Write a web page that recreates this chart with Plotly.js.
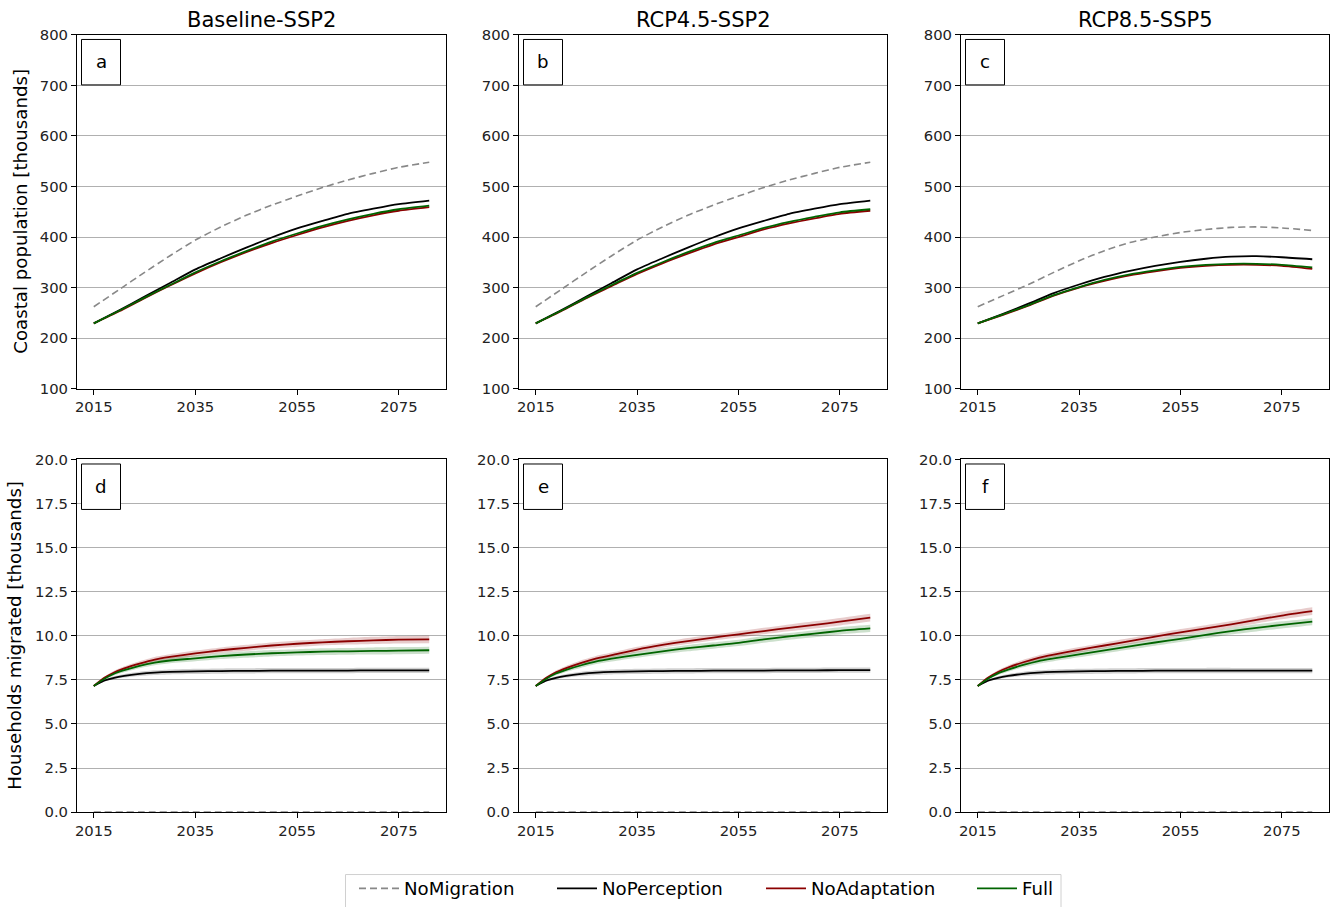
<!DOCTYPE html>
<html><head><meta charset="utf-8">
<script src="https://cdn.plot.ly/plotly-3.0.1.min.js"></script>
<style>body{margin:0;background:#fff}#chart{width:1334px;height:907px}</style>
</head><body><div id="chart"></div>
<script>
// ---------- data ----------
const scenarios = ['Baseline-SSP2', 'RCP4.5-SSP2', 'RCP8.5-SSP5'];
const panelLetters = ['a', 'b', 'c', 'd', 'e', 'f'];
const seriesNames = ['NoMigration', 'NoPerception', 'NoAdaptation', 'Full'];

// Coastal population [thousands]
const popYears = [2015, 2020, 2025, 2030, 2035, 2040, 2045, 2050, 2055, 2060, 2065, 2070, 2075, 2081];
const popNoMigration_a  = [262, 296, 330, 363, 394, 420, 443, 463, 481, 498, 513, 526, 538, 548];
const popNoPerception_a = [229, 255, 282, 309, 336, 358, 379, 399, 417, 432, 446, 456, 465, 472];
const popNoAdaptation_a = [229, 253, 279, 304, 328, 350, 370, 388, 404, 419, 432, 443, 452, 459];
const popFull_a         = [229, 254, 280, 305, 330, 352, 372, 391, 407, 422, 435, 446, 455, 462];

const popNoMigration_b  = [262, 296, 330, 363, 394, 420, 443, 463, 481, 498, 513, 526, 538, 548];
const popNoPerception_b = [229, 255, 282, 309, 336, 358, 379, 399, 417, 432, 446, 456, 465, 472];
const popNoAdaptation_b = [229, 253, 279, 303, 327, 348, 367, 385, 400, 415, 427, 437, 446, 452];
const popFull_b         = [229, 254, 280, 305, 329, 350, 370, 388, 403, 418, 430, 440, 449, 455];

const popNoMigration_c  = [262, 284, 306, 330, 353, 373, 389, 400, 409, 415, 419, 420, 418, 413];
const popNoPerception_c = [229, 248, 268, 289, 306, 321, 333, 343, 351, 357, 361, 362, 360, 356];
const popNoAdaptation_c = [229, 246, 264, 284, 300, 313, 324, 332, 339, 343, 345, 345, 343, 337];
const popFull_c         = [229, 247, 265, 285, 301, 315, 326, 334, 341, 345, 347, 347, 345, 340];

// Households migrated [thousands]
const migYears = [2015, 2017, 2019, 2021, 2024, 2027, 2030, 2035, 2040, 2045, 2050, 2055, 2060, 2065, 2070, 2075, 2081];
const migNoMigration = [0, 0, 0, 0, 0, 0, 0, 0, 0, 0, 0, 0, 0, 0, 0, 0, 0];

const migNoPerception_d = [7.15, 7.45, 7.62, 7.73, 7.84, 7.91, 7.95, 7.98, 8.00, 8.01, 8.02, 8.02, 8.03, 8.03, 8.04, 8.04, 8.04];
const migNoAdaptation_d = [7.15, 7.60, 7.92, 8.15, 8.42, 8.65, 8.80, 9.00, 9.18, 9.32, 9.45, 9.55, 9.63, 9.69, 9.74, 9.78, 9.80];
const migFull_d         = [7.15, 7.55, 7.85, 8.05, 8.30, 8.48, 8.60, 8.72, 8.85, 8.94, 9.01, 9.06, 9.10, 9.12, 9.14, 9.16, 9.18];

const migNoPerception_e = [7.15, 7.45, 7.62, 7.73, 7.84, 7.91, 7.95, 7.98, 8.00, 8.01, 8.02, 8.03, 8.03, 8.04, 8.04, 8.05, 8.05];
const migNoAdaptation_e = [7.15, 7.60, 7.93, 8.17, 8.47, 8.72, 8.90, 9.22, 9.48, 9.70, 9.90, 10.08, 10.27, 10.45, 10.62, 10.80, 11.03];
const migFull_e         = [7.15, 7.55, 7.86, 8.07, 8.33, 8.55, 8.70, 8.92, 9.12, 9.30, 9.45, 9.60, 9.80, 9.97, 10.12, 10.28, 10.42];

const migNoPerception_f = [7.15, 7.45, 7.62, 7.73, 7.84, 7.91, 7.95, 7.98, 8.00, 8.01, 8.02, 8.02, 8.03, 8.03, 8.03, 8.03, 8.03];
const migNoAdaptation_f = [7.15, 7.62, 7.95, 8.20, 8.50, 8.75, 8.93, 9.20, 9.45, 9.70, 9.95, 10.20, 10.42, 10.65, 10.90, 11.15, 11.40];
const migFull_f         = [7.15, 7.56, 7.87, 8.08, 8.35, 8.57, 8.72, 8.95, 9.17, 9.40, 9.62, 9.83, 10.05, 10.27, 10.45, 10.62, 10.80];

// half-width of the shaded spread around each migration line
const spreadNoPerception = [0, 0.05, 0.08, 0.10, 0.12, 0.13, 0.14, 0.15, 0.15, 0.15, 0.15, 0.15, 0.15, 0.15, 0.15, 0.15, 0.15];
const spreadNoAdaptation = [0, 0.06, 0.10, 0.12, 0.14, 0.15, 0.15, 0.16, 0.16, 0.17, 0.17, 0.18, 0.18, 0.19, 0.20, 0.21, 0.22];
const spreadFull         = [0, 0.06, 0.10, 0.12, 0.14, 0.15, 0.16, 0.17, 0.17, 0.18, 0.18, 0.18, 0.19, 0.19, 0.20, 0.20, 0.20];

const popTickVals = [100, 200, 300, 400, 500, 600, 700, 800];
const migTickVals = [0, 2.5, 5, 7.5, 10, 12.5, 15, 17.5, 20];
const yearTickVals = [2015, 2035, 2055, 2075];

// ---------- layout helpers ----------
const W = 1334, H = 907;
const colPx = [[77, 446], [519, 887], [961, 1329]];
const rowPx = [[35, 389], [460, 813]];
const px2x = p => p / W;
const px2y = p => 1 - p / H;

const colors = {
  NoMigration: '#888888',
  NoPerception: '#000000',
  NoAdaptation: '#8b0000',
  Full: '#006400'
};
const fills = {
  NoPerception: 'rgba(0,0,0,0.18)',
  NoAdaptation: 'rgba(139,0,0,0.20)',
  Full: 'rgba(0,100,0,0.20)'
};
const legendIds = { NoMigration: 'legend', NoPerception: 'legend2', NoAdaptation: 'legend3', Full: 'legend4' };
const legendTextStart = { legend: 405, legend2: 603, legend3: 812, legend4: 1023 };
const FONT = 'DejaVu Sans, sans-serif';

const popData = [
  [popNoMigration_a, popNoPerception_a, popNoAdaptation_a, popFull_a],
  [popNoMigration_b, popNoPerception_b, popNoAdaptation_b, popFull_b],
  [popNoMigration_c, popNoPerception_c, popNoAdaptation_c, popFull_c]
];
const migData = [
  [migNoMigration, migNoPerception_d, migNoAdaptation_d, migFull_d],
  [migNoMigration, migNoPerception_e, migNoAdaptation_e, migFull_e],
  [migNoMigration, migNoPerception_f, migNoAdaptation_f, migFull_f]
];
const spreads = { NoPerception: spreadNoPerception, NoAdaptation: spreadNoAdaptation, Full: spreadFull };

const traces = [];
function lineTrace(x, y, name, k, showLegend) {
  return {
    x: x, y: y, name: name, type: 'scatter', mode: 'lines',
    xaxis: 'x' + k, yaxis: 'y' + k,
    line: {
      color: colors[name], width: name === 'NoMigration' ? 1.6 : 1.8,
      dash: name === 'NoMigration' ? '7px,4px' : 'solid', shape: 'spline', smoothing: 0.6
    },
    showlegend: showLegend, legend: legendIds[name], legendgroup: name, hoverinfo: 'skip'
  };
}

for (let c = 0; c < 3; c++) {
  const kTop = c === 0 ? '' : String(c + 1);
  seriesNames.forEach((n, i) => {
    traces.push(lineTrace(popYears, popData[c][i], n, kTop, c === 0));
  });
  const kBot = String(c + 4);
  seriesNames.forEach((n, i) => {
    const vals = migData[c][i];
    if (n !== 'NoMigration') {
      const s = spreads[n];
      traces.push({
        x: migYears, y: vals.map((v, j) => v - s[j]), type: 'scatter', mode: 'lines',
        xaxis: 'x' + kBot, yaxis: 'y' + kBot, line: { width: 0, shape: 'spline', smoothing: 0.6 },
        showlegend: false, hoverinfo: 'skip'
      });
      traces.push({
        x: migYears, y: vals.map((v, j) => v + s[j]), type: 'scatter', mode: 'lines',
        xaxis: 'x' + kBot, yaxis: 'y' + kBot, line: { width: 0, shape: 'spline', smoothing: 0.6 },
        fill: 'tonexty', fillcolor: fills[n], showlegend: false, hoverinfo: 'skip'
      });
    }
  });
  seriesNames.forEach((n, i) => {
    traces.push(lineTrace(migYears, migData[c][i], n, kBot, false));
  });
}

const layout = {
  width: W, height: H,
  margin: { l: 0, r: 0, t: 0, b: 0 },
  paper_bgcolor: '#fff', plot_bgcolor: '#fff',
  font: { family: FONT, size: 14, color: '#000' },
  showlegend: true,
  annotations: [],
  shapes: []
};

Object.keys(legendTextStart).forEach(id => {
  layout[id] = {
    orientation: 'h', x: px2x(legendTextStart[id] - 51), xanchor: 'left',
    y: px2y(871), yanchor: 'top',
    font: { family: FONT, size: 18.2, color: '#000' },
    borderwidth: 0, bgcolor: 'rgba(0,0,0,0)', itemwidth: 40
  };
});

// legend frame
layout.shapes.push({
  type: 'rect', xref: 'paper', yref: 'paper',
  x0: px2x(345.5), x1: px2x(1061), y0: px2y(875.5), y1: px2y(920),
  line: { color: '#d0d0d0', width: 1 }, fillcolor: 'rgba(0,0,0,0)', layer: 'below'
});

for (let r = 0; r < 2; r++) {
  for (let c = 0; c < 3; c++) {
    const idx = r * 3 + c + 1;
    const key = idx === 1 ? '' : String(idx);
    layout['xaxis' + key] = {
      domain: [px2x(colPx[c][0]), px2x(colPx[c][1])],
      range: [2011.7, 2084.3], anchor: 'y' + key,
      tickmode: 'array', tickvals: yearTickVals, ticktext: yearTickVals.map(String),
      ticks: 'outside', ticklen: 5, tickwidth: 1, tickcolor: '#000',
      showline: true, linecolor: '#000', linewidth: 1, mirror: true,
      showgrid: false, zeroline: false,
      tickfont: { family: FONT, size: 14.8, color: '#222' }
    };
    layout['yaxis' + key] = {
      domain: [px2y(rowPx[r][1]), px2y(rowPx[r][0])],
      range: r === 0 ? [100, 800] : [0, 20], anchor: 'x' + key,
      tickmode: 'array',
      tickvals: r === 0 ? popTickVals : migTickVals,
      ticktext: r === 0 ? popTickVals.map(String) : migTickVals.map(v => v.toFixed(1)),
      ticks: 'outside', ticklen: 5, tickwidth: 1, tickcolor: '#000',
      showline: true, linecolor: '#000', linewidth: 1, mirror: true,
      showgrid: true, gridcolor: '#b0b0b0', gridwidth: 1, zeroline: false,
      tickfont: { family: FONT, size: 14.8, color: '#222' }
    };

    // panel letter box
    const left = colPx[c][0], top = rowPx[r][0];
    layout.shapes.push({
      type: 'rect', xref: 'paper', yref: 'paper',
      x0: px2x(left + 4.5), x1: px2x(left + 43.5),
      y0: px2y(top + 4.5), y1: px2y(top + 50),
      line: { color: '#000', width: 1 }, fillcolor: '#fff', layer: 'above'
    });
    layout.annotations.push({
      xref: 'paper', yref: 'paper', x: px2x(left + 24), y: px2y(top + 27),
      xanchor: 'center', yanchor: 'middle', showarrow: false,
      text: panelLetters[r * 3 + c], font: { family: FONT, size: 18.2, color: '#000' }
    });
  }
}

// column titles
scenarios.forEach((s, c) => {
  layout.annotations.push({
    xref: 'paper', yref: 'paper', x: px2x((colPx[c][0] + colPx[c][1]) / 2), y: px2y(20),
    xanchor: 'center', yanchor: 'middle', showarrow: false,
    text: s, font: { family: FONT, size: 21, color: '#000' }
  });
});

// y-axis titles
layout.annotations.push({
  xref: 'paper', yref: 'paper', x: px2x(21), y: px2y((rowPx[0][0] + rowPx[0][1]) / 2),
  xanchor: 'center', yanchor: 'middle', showarrow: false, textangle: -90,
  text: 'Coastal population [thousands]', font: { family: FONT, size: 18.2, color: '#000' }
});
layout.annotations.push({
  xref: 'paper', yref: 'paper', x: px2x(15), y: px2y((rowPx[1][0] + rowPx[1][1]) / 2),
  xanchor: 'center', yanchor: 'middle', showarrow: false, textangle: -90,
  text: 'Households migrated [thousands]', font: { family: FONT, size: 18.2, color: '#000' }
});

Plotly.newPlot('chart', traces, layout, { staticPlot: true, displayModeBar: false });
</script>
</body></html>
